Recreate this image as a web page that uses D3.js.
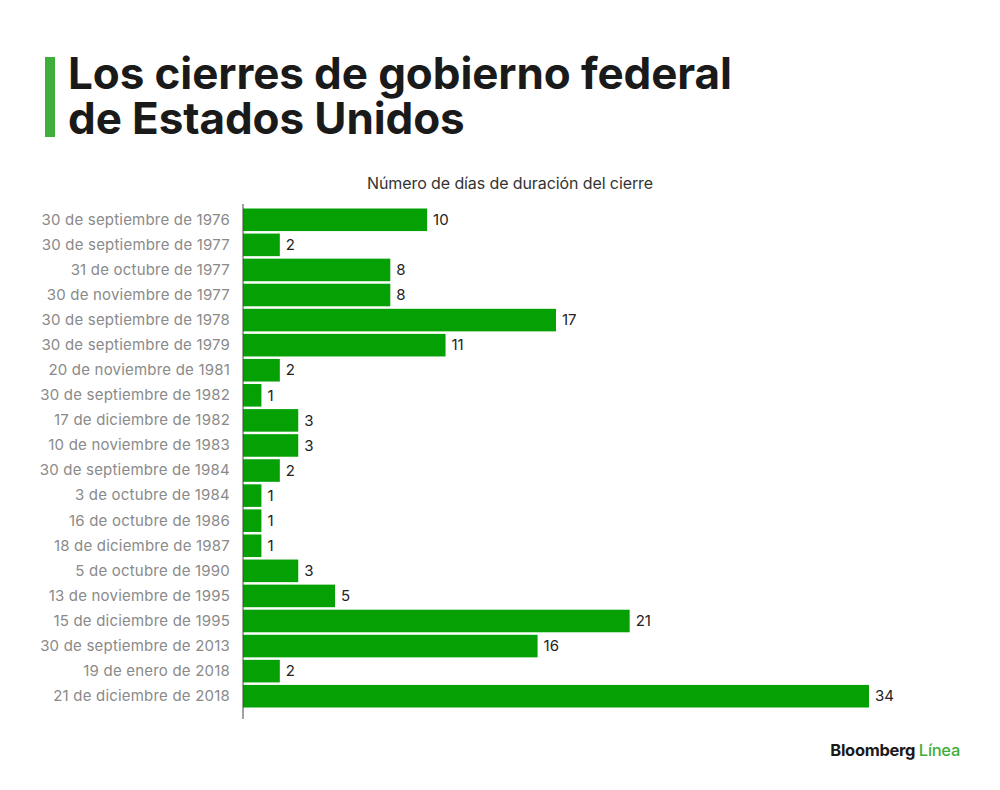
<!DOCTYPE html>
<html>
<head>
<meta charset="utf-8">
<script src="https://cdn.jsdelivr.net/npm/d3@7"></script>
<style>
  body { margin: 0; background: #fff; }
  svg { display: block; font-family: Inter, "Noto Sans", sans-serif; }
</style>
</head>
<body>
<div id="chart"></div>
<script>
/* ── Data ─────────────────────────────────────────────────────────── */
const dates = [
  '30 de septiembre de 1976', '30 de septiembre de 1977', '31 de octubre de 1977',
  '30 de noviembre de 1977', '30 de septiembre de 1978', '30 de septiembre de 1979',
  '20 de noviembre de 1981', '30 de septiembre de 1982', '17 de diciembre de 1982',
  '10 de noviembre de 1983', '30 de septiembre de 1984', '3 de octubre de 1984',
  '16 de octubre de 1986', '18 de diciembre de 1987', '5 de octubre de 1990',
  '13 de noviembre de 1995', '15 de diciembre de 1995', '30 de septiembre de 2013',
  '19 de enero de 2018', '21 de diciembre de 2018'
];
const days = [10, 2, 8, 8, 17, 11, 2, 1, 3, 3, 2, 1, 1, 1, 3, 5, 21, 16, 2, 34];

const GREEN = '#04a004';

/* ── Layout ───────────────────────────────────────────────────────── */
const W = 1000, H = 790;
const svg = d3.select('#chart').append('svg').attr('width', W).attr('height', H);

const x0 = 243, plotTop = 208, plotBottom = 708;
const x = d3.scaleLinear().domain([0, 34]).range([x0, 869]);
const y = d3.scaleBand().domain(dates).range([plotTop, plotBottom]).paddingInner(0.1).paddingOuter(0.02);

// title block
svg.append('rect').attr('x', 45).attr('y', 57).attr('width', 10).attr('height', 80).attr('fill', '#3fae3a');
const titleLines = ['Los cierres de gobierno federal', 'de Estados Unidos'];
svg.selectAll('text.title').data(titleLines).join('text')
  .attr('class', 'title')
  .attr('x', 68).attr('y', (d, i) => 89 + i * 45)
  .attr('font-size', 44).attr('font-weight', 700)
  .attr('fill', '#1a1a1a').attr('letter-spacing', -0.1)
  .text(d => d);

svg.append('text').attr('x', 510).attr('y', 189).attr('text-anchor', 'middle')
  .attr('font-size', 16).attr('fill', '#333').attr('letter-spacing', -0.1)
  .text('Número de días de duración del cierre');

// bars
svg.selectAll('rect.bar').data(days).join('rect')
  .attr('class', 'bar')
  .attr('x', x(0))
  .attr('y', (d, i) => y(dates[i]))
  .attr('width', d => x(d) - x(0))
  .attr('height', y.bandwidth())
  .attr('fill', GREEN);

// value labels
svg.selectAll('text.val').data(days).join('text')
  .attr('class', 'val')
  .attr('x', d => x(d) + 6)
  .attr('y', (d, i) => y(dates[i]) + y.bandwidth() / 2)
  .attr('dy', '0.35em')
  .attr('font-size', 15).attr('fill', '#222')
  .text(d => d);

// category axis
const yAxis = d3.axisLeft(y).tickSize(0).tickPadding(13);
const ga = svg.append('g').attr('transform', `translate(${x0},0)`).call(yAxis);
ga.select('.domain').remove();
ga.selectAll('text').attr('font-size', 15).attr('fill', '#8a8a8a').attr('letter-spacing', 0.2)
  .style('font-family', 'Inter, "Noto Sans", sans-serif');
svg.append('line').attr('x1', x0).attr('x2', x0).attr('y1', 204).attr('y2', 719)
  .attr('stroke', '#444').attr('stroke-width', 1);

// branding
const brand = svg.append('text').attr('x', 960).attr('y', 756).attr('text-anchor', 'end')
  .attr('font-size', 16.5).attr('font-weight', 700).attr('letter-spacing', -0.3);
brand.append('tspan').attr('fill', '#1a1a1a').text('Bloomberg ');
brand.append('tspan').attr('fill', '#3fae3a').attr('font-weight', 500).text('Línea');
</script>
</body>
</html>
